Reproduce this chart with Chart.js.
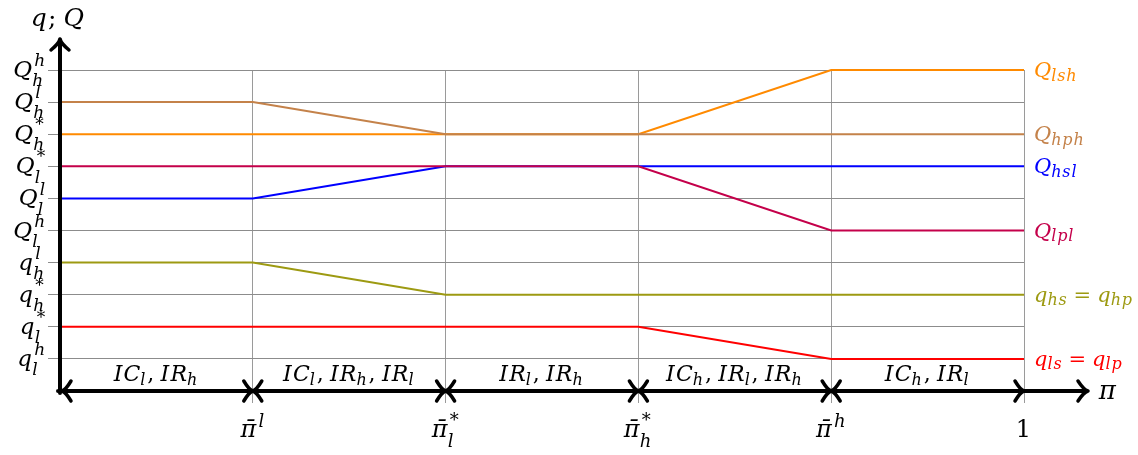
<!DOCTYPE html>
<html>
<head>
<meta charset="utf-8">
<script src="https://cdn.jsdelivr.net/npm/chart.js@4.4.1/dist/chart.umd.min.js"></script>
<style>
    body { margin: 0; background: #fff; }
    #wrap { width: 1138px; height: 455px; }
</style>
</head>
<body>
<div id="wrap"><canvas id="chart"></canvas></div>
<script>
// Breakpoints on the pi axis
const piBreaks = [0, 0.2, 0.4, 0.6, 0.8, 1];

// Series levels (index of the y tick level) at each breakpoint
const Qhph = [9, 9, 8, 8, 8, 8];
const Qlsh = [8, 8, 8, 8, 10, 10];
const Qlpl = [7, 7, 7, 7, 5, 5];
const Qhsl = [6, 6, 7, 7, 7, 7];
const qhs = [4, 4, 3, 3, 3, 3];
const qls = [2, 2, 2, 2, 1, 1];

const seriesNames = ["Q_{hph}", "Q_{lsh}", "Q_{lpl}", "Q_{hsl}", "q_{hs} = q_{hp}", "q_{ls} = q_{lp}"];

// Tick labels (mini TeX: ^ sup, _ sub)
const yTickLabels = ["", "q^h_l", "q^*_l", "q^*_h", "q^l_h", "Q^h_l", "Q^l_l", "Q^*_l", "Q^*_h", "Q^l_h", "Q^h_h"];
const xTickLabels = ["", "\u03C0\u0304^l", "\u03C0\u0304^*_l", "\u03C0\u0304^*_h", "\u03C0\u0304^h", "1"];
const regimeLabels = ["IC_l, IR_h", "IC_l, IR_h, IR_l", "IR_l, IR_h", "IC_h, IR_l, IR_h", "IC_h, IR_l"];

const FONT = "'DejaVu Serif'";
const seriesColors = ["#c4824a", "#ff8a00", "#c4004a", "#0000ff", "#9d9a12", "#ff0000"];

// --- tiny math text renderer ---
function parseMath(src) {
    const toks = [];
    let cur = null;
    let i = 0;
    while (i < src.length) {
        const c = src[i];
        if (c === "^" || c === "_") {
            i++;
            let arg;
            if (src[i] === "{") {
                const j = src.indexOf("}", i);
                arg = src.slice(i + 1, j);
                i = j + 1;
            } else {
                arg = src[i];
                i++;
            }
            if (!cur) { cur = { base: "", sup: "", sub: "" }; toks.push(cur); }
            if (c === "^") cur.sup = arg; else cur.sub = arg;
            cur.closed = true;
        } else {
            if (!cur || cur.closed) { cur = { base: "", sup: "", sub: "" }; toks.push(cur); }
            cur.base += c;
            i++;
        }
    }
    return toks;
}

function run(ctx, text, x, y, size, draw) {
    let w = 0;
    const glyphs = text.match(/.[\u0300-\u036f]*/gu) || [];
    for (const g of glyphs) {
        const italic = /[A-Za-z\u03C0]/.test(g[0]);
        ctx.font = (italic ? "italic " : "") + size + "px " + FONT;
        const extra = g === " " ? -size * 0.08 : size * 0.05;
        if (draw) ctx.fillText(g, x + w, y);
        w += ctx.measureText(g).width + extra;
    }
    return w;
}

function drawMath(ctx, src, x, y, size, color, align) {
    const toks = parseMath(src);
    const small = Math.round(size * 0.74);
    const layout = (draw, x0) => {
        let w = x0;
        for (const t of toks) {
            w += run(ctx, t.base, w, y, size, draw);
            const both = t.sup && t.sub;
            let sw = 0;
            if (t.sup) sw = Math.max(sw, run(ctx, t.sup, w + 1, y - size * (both ? 0.47 : 0.42), small, draw) + 1);
            if (t.sub) sw = Math.max(sw, run(ctx, t.sub, w - 1, y + size * (both ? 0.4 : 0.17), small, draw));
            w += sw;
        }
        return w - x0;
    };
    const width = layout(false, 0);
    let start = x;
    if (align === "center") start = x - width / 2;
    if (align === "right") start = x - width;
    ctx.save();
    ctx.fillStyle = color;
    ctx.textBaseline = "alphabetic";
    ctx.textAlign = "left";
    layout(true, start);
    ctx.restore();
}

function chevron(ctx, x, y, dx, dy, dir) {
    ctx.beginPath();
    if (dir === "left") { ctx.moveTo(x + dx, y - dy); ctx.quadraticCurveTo(x + dx * 0.4, y - 1, x, y); ctx.quadraticCurveTo(x + dx * 0.4, y + 1, x + dx, y + dy); }
    if (dir === "right") { ctx.moveTo(x - dx, y - dy); ctx.quadraticCurveTo(x - dx * 0.4, y - 1, x, y); ctx.quadraticCurveTo(x - dx * 0.4, y + 1, x - dx, y + dy); }
    if (dir === "up") { ctx.moveTo(x - dy, y + dx); ctx.quadraticCurveTo(x - 1, y + dx * 0.4, x, y); ctx.quadraticCurveTo(x + 1, y + dx * 0.4, x + dy, y + dx); }
    ctx.stroke();
}

const decorations = {
    id: "decorations",
    afterDatasetsDraw(chart) {
        const ctx = chart.ctx;
        const xs = chart.scales.x;
        const ys = chart.scales.y;
        const x0 = xs.getPixelForValue(0);
        const y0 = ys.getPixelForValue(0);

        ctx.save();
        ctx.strokeStyle = "#000";
        ctx.lineCap = "round";
        ctx.lineJoin = "round";

        // axes
        ctx.lineWidth = 4;
        ctx.beginPath();
        ctx.moveTo(x0, y0 + 2);
        ctx.lineTo(x0, 40);
        ctx.moveTo(x0 - 2, y0);
        ctx.lineTo(1086, y0);
        ctx.stroke();

        ctx.lineWidth = 3.5;
        chevron(ctx, x0, 39, 11, 9, "up");
        chevron(ctx, 1088, y0, 10, 10, "right");

        // regime arrows on the pi axis
        piBreaks.forEach((b, i) => {
            const px = xs.getPixelForValue(b);
            if (i > 0) chevron(ctx, px, y0, 9, 10, "right");
            if (i < piBreaks.length - 1) chevron(ctx, px + (i === 0 ? 2 : 0), y0, 9, 10, "left");
        });
        ctx.restore();

        // regime labels
        regimeLabels.forEach((lab, i) => {
            const mid = (xs.getPixelForValue(piBreaks[i]) + xs.getPixelForValue(piBreaks[i + 1])) / 2;
            drawMath(ctx, lab, mid, y0 - 10, 22, "#000", "center");
        });

        // y tick labels
        yTickLabels.forEach((lab, v) => {
            if (!lab) return;
            drawMath(ctx, lab, 46, ys.getPixelForValue(v) + 7, 23, "#000", "right");
        });

        // x tick labels
        xTickLabels.forEach((lab, i) => {
            if (!lab) return;
            drawMath(ctx, lab, xs.getPixelForValue(piBreaks[i]), 437, 24, "#000", "center");
        });

        // series labels on the right
        chart.data.datasets.forEach((ds, i) => {
            const last = ds.data[ds.data.length - 1];
            drawMath(ctx, seriesNames[i], xs.getPixelForValue(last.x) + 10, ys.getPixelForValue(last.y) + 7, 21, seriesColors[i], "left");
        });

        // axis titles
        drawMath(ctx, "q; Q", 58, 26, 25, "#000", "center");
        drawMath(ctx, "\u03C0", 1108, y0 + 8, 26, "#000", "center");
    }
};

const allSeries = [Qhph, Qlsh, Qlpl, Qhsl, qhs, qls];

new Chart(document.getElementById("chart"), {
    type: "line",
    data: {
        datasets: allSeries.map((vals, i) => ({
            label: seriesNames[i],
            data: piBreaks.map((b, j) => ({ x: b, y: vals[j] })),
            borderColor: seriesColors[i],
            borderWidth: 2,
            pointRadius: 0,
            tension: 0,
            fill: false,
            clip: false
        }))
    },
    options: {
        responsive: true,
        maintainAspectRatio: false,
        animation: false,
        events: [],
        layout: { padding: { left: 0, top: 70, right: 114, bottom: 0 } },
        plugins: { legend: { display: false }, tooltip: { enabled: false } },
        scales: {
            x: {
                type: "linear",
                min: 0,
                max: 1,
                ticks: { stepSize: 0.2, display: false },
                border: { display: false },
                grid: {
                    color: (c) => (c.tick && c.tick.value === 0 ? "rgba(0,0,0,0)" : "#9a9a9a"),
                    lineWidth: 1,
                    tickLength: 12
                },
                afterFit: (s) => { s.height = 64; }
            },
            y: {
                min: 0,
                max: 10,
                ticks: { stepSize: 1, display: false },
                border: { display: false },
                grid: {
                    color: (c) => (c.tick && c.tick.value === 0 ? "rgba(0,0,0,0)" : "#8c8c8c"),
                    lineWidth: 1,
                    tickLength: 12
                },
                afterFit: (s) => { s.width = 60; }
            }
        }
    },
    plugins: [decorations]
});
</script>
</body>
</html>
